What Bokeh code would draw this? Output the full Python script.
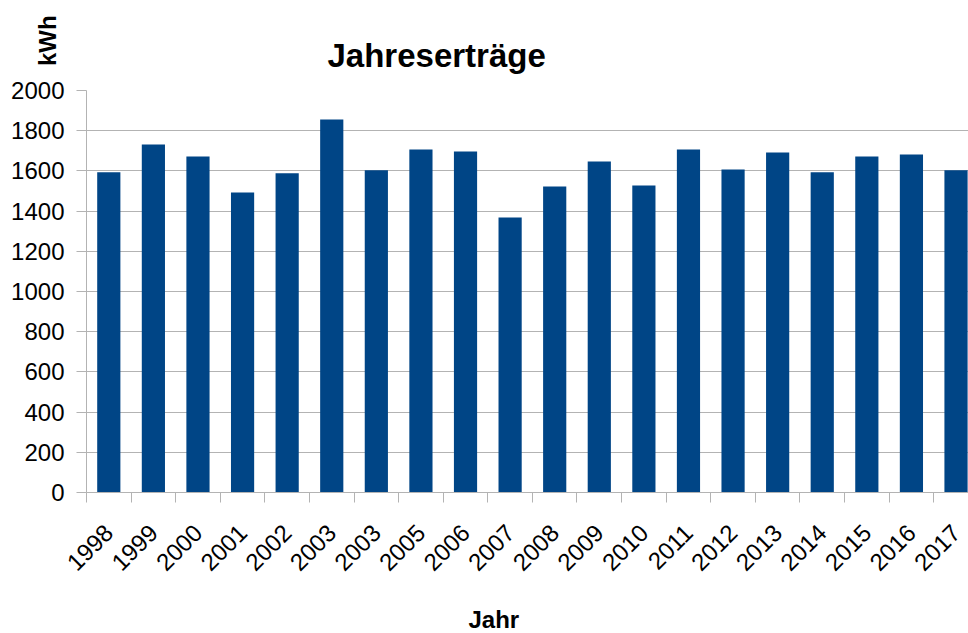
import math
from bokeh.plotting import figure
from bokeh.models import Range1d, FixedTicker, Label, ColumnDataSource
from bokeh.embed import file_html
from bokeh.resources import INLINE

# --- data ---
years = ["1998", "1999", "2000", "2001", "2002", "2003", "2003", "2005", "2006", "2007",
         "2008", "2009", "2010", "2011", "2012", "2013", "2014", "2015", "2016", "2017"]
values = [1593, 1731, 1672, 1493, 1588, 1856, 1603, 1706, 1697, 1368,
          1522, 1647, 1527, 1706, 1607, 1692, 1593, 1672, 1682, 1603]
y_ticks = [0, 200, 400, 600, 800, 1000, 1200, 1400, 1600, 1800, 2000]
title_text = "Jahreserträge"
x_label = "Jahr"
y_label = "kWh"

FONT = "Liberation Sans"
BAR = "#004586"
GRID = "#b3b3b3"

pos = [i + 0.5 for i in range(len(years))]
src = ColumnDataSource(dict(x=pos, top=values))

p = figure(width=968, height=633, output_backend="svg", toolbar_location=None,
           x_range=Range1d(0, 19.78), y_range=Range1d(0, 2000),
           min_border_left=86, min_border_right=0, min_border_top=90, min_border_bottom=141)
p.outline_line_color = None
p.background_fill_color = "white"
p.border_fill_color = "white"

p.vbar(x="x", top="top", bottom=0, width=0.52, source=src, fill_color=BAR, line_color=None)

# y axis
p.yaxis.ticker = FixedTicker(ticks=y_ticks)
p.yaxis.axis_line_color = GRID
p.yaxis.major_tick_line_color = GRID
p.yaxis.major_tick_out = 10
p.yaxis.major_tick_in = 0
p.yaxis.minor_tick_line_color = None
p.yaxis.major_label_text_font = FONT
p.yaxis.major_label_text_font_size = "24px"
p.yaxis.major_label_text_color = "black"
p.yaxis.major_label_standoff = 12

# x axis
p.xaxis.ticker = FixedTicker(ticks=pos, minor_ticks=list(range(len(years) + 1)))
p.xaxis.major_label_overrides = {pv: y for pv, y in zip(pos, years)}
p.xaxis.axis_line_color = GRID
p.xaxis.major_tick_line_color = None
p.xaxis.major_tick_out = 0
p.xaxis.major_tick_in = 0
p.xaxis.minor_tick_line_color = GRID
p.xaxis.minor_tick_out = 10
p.xaxis.minor_tick_in = 0
p.xaxis.major_label_orientation = math.pi / 4
p.xaxis.major_label_text_font = FONT
p.xaxis.major_label_text_font_size = "24px"
p.xaxis.major_label_text_color = "black"
p.xaxis.major_label_standoff = 26

p.xgrid.grid_line_color = None
p.ygrid.grid_line_color = GRID
p.ygrid.grid_line_width = 1

p.add_layout(Label(x=327, y=55, x_units="canvas", y_units="canvas", text=title_text,
                   text_font=FONT, text_font_size="33px", text_font_style="bold",
                   text_align="left", text_baseline="middle", text_color="black"), "above")
p.add_layout(Label(x=47, y=65.5, x_units="canvas", y_units="canvas", text=y_label,
                   angle=math.pi / 2, text_font=FONT, text_font_size="24px",
                   text_font_style="bold", text_align="left", text_baseline="middle",
                   text_color="black"), "above")
p.add_layout(Label(x=468, y=619, x_units="canvas", y_units="canvas", text=x_label,
                   text_font=FONT, text_font_size="24px", text_font_style="bold",
                   text_align="left", text_baseline="middle", text_color="black"), "below")

open("out.html", "w").write(file_html(p, INLINE))
